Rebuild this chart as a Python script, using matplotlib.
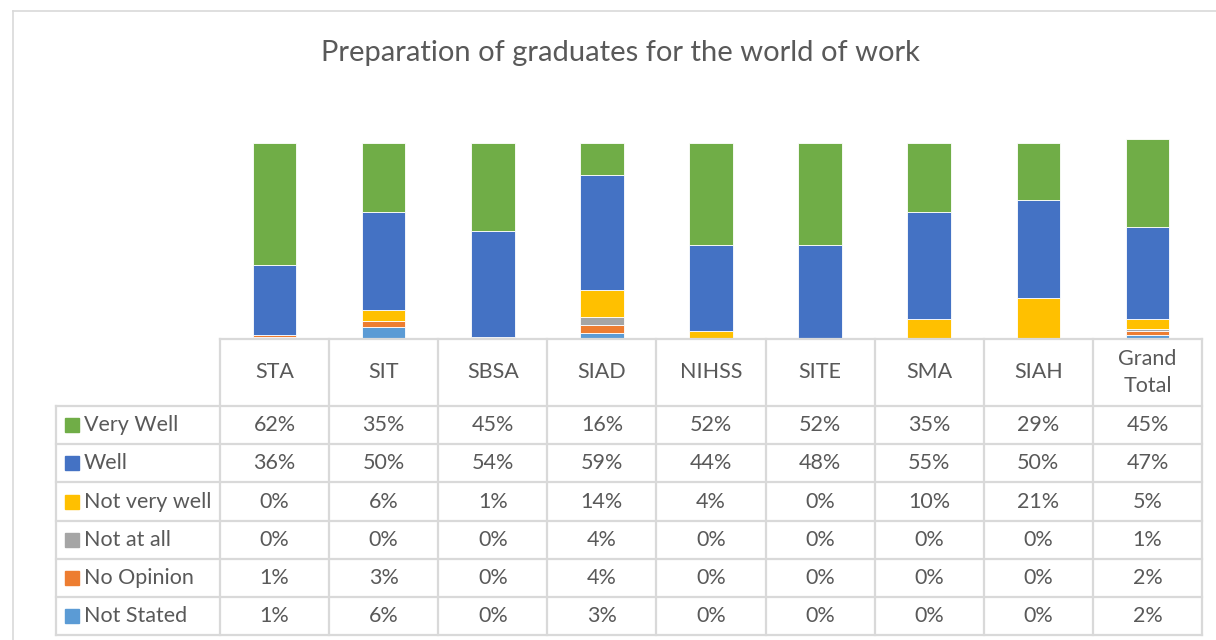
import numpy as np
import matplotlib.pyplot as plt

# Datos
categorias = ['STA', 'SIT', 'SBSA', 'SIAD', 'NIHSS', 'SITE', 'SMA', 'SIAH', 'Grand\nTotal']
very_well = [62, 35, 45, 16, 52, 52, 35, 29, 45]
well = [36, 50, 54, 59, 44, 48, 55, 50, 47]
not_very_well = [0, 6, 1, 14, 4, 0, 10, 21, 5]
not_at_all = [0, 0, 0, 4, 0, 0, 0, 0, 1]
no_opinion = [1, 3, 0, 4, 0, 0, 0, 0, 2]
not_stated = [1, 6, 0, 3, 0, 0, 0, 0, 2]

# Orden de la tabla (arriba a abajo)
series = [('Very Well', very_well, '#70AD47'),
          ('Well', well, '#4472C4'),
          ('Not very well', not_very_well, '#FFC000'),
          ('Not at all', not_at_all, '#A5A5A5'),
          ('No Opinion', no_opinion, '#ED7D31'),
          ('Not Stated', not_stated, '#5B9BD5')]

plt.rcParams['font.family'] = ['Lato', 'DejaVu Sans']
txt = '#595959'
grid = '#D9D9D9'
fs = 15.5

W, H = 1216, 640
fig = plt.figure(figsize=(W / 100, H / 100), dpi=100)

# Geometria (pixeles)
x0, x1 = 220, 1202
lab_x = 56
base_y = 339
head_y = 406
row_h = 38.2
col_w = (x1 - x0) / len(categorias)

# Ejes de las barras
ax = fig.add_axes([x0 / W, 1 - base_y / H, (x1 - x0) / W, 235 / H])
x = np.arange(len(categorias))
bottom = np.zeros(len(categorias))
for nombre, vals, color in series[::-1]:
    v = np.array(vals) / 100
    ax.bar(x, v, bottom=bottom, width=0.4, color=color, edgecolor='white', linewidth=0.6)
    bottom += v
ax.set_xlim(-0.5, len(categorias) - 0.5)
ax.set_ylim(0, 1.2)
ax.set_axis_off()

# Capa para la tabla y el titulo
ov = fig.add_axes([0, 0, 1, 1], facecolor='none')
ov.set_xlim(0, W)
ov.set_ylim(H, 0)
ov.set_axis_off()

# Borde del grafico
ov.plot([13, W + 5], [11, 11], color=grid, lw=1.2)
ov.plot([13, 13], [11, H + 5], color=grid, lw=1.2)

ov.text(620, 53, 'Preparation of graduates for the world of work', ha='center', va='center',
        fontsize=21, color=txt)

n_rows = len(series)
bottom_y = head_y + n_rows * row_h
lw = 1.6
# Lineas horizontales
ov.plot([x0, x1], [base_y, base_y], color=grid, lw=lw)
for i in range(n_rows + 1):
    y = head_y + i * row_h
    ov.plot([lab_x, x1], [y, y], color=grid, lw=lw)
# Lineas verticales
ov.plot([lab_x, lab_x], [head_y, bottom_y], color=grid, lw=lw)
for j in range(len(categorias) + 1):
    xx = x0 + j * col_w
    ov.plot([xx, xx], [base_y, bottom_y], color=grid, lw=lw)

# Encabezados
for j, c in enumerate(categorias):
    ov.text(x0 + (j + 0.5) * col_w, (base_y + head_y) / 2, c, ha='center', va='center',
            fontsize=fs, color=txt, linespacing=1.45)

# Filas
for i, (nombre, vals, color) in enumerate(series):
    yc = head_y + (i + 0.5) * row_h
    ov.add_patch(plt.Rectangle((65, yc - 7), 14, 14, color=color))
    ov.text(84, yc, nombre, ha='left', va='center', fontsize=fs, color=txt)
    for j, v in enumerate(vals):
        ov.text(x0 + (j + 0.5) * col_w, yc, f'{v}%', ha='center', va='center',
                fontsize=fs, color=txt)

plt.savefig('out.png', dpi=100)
